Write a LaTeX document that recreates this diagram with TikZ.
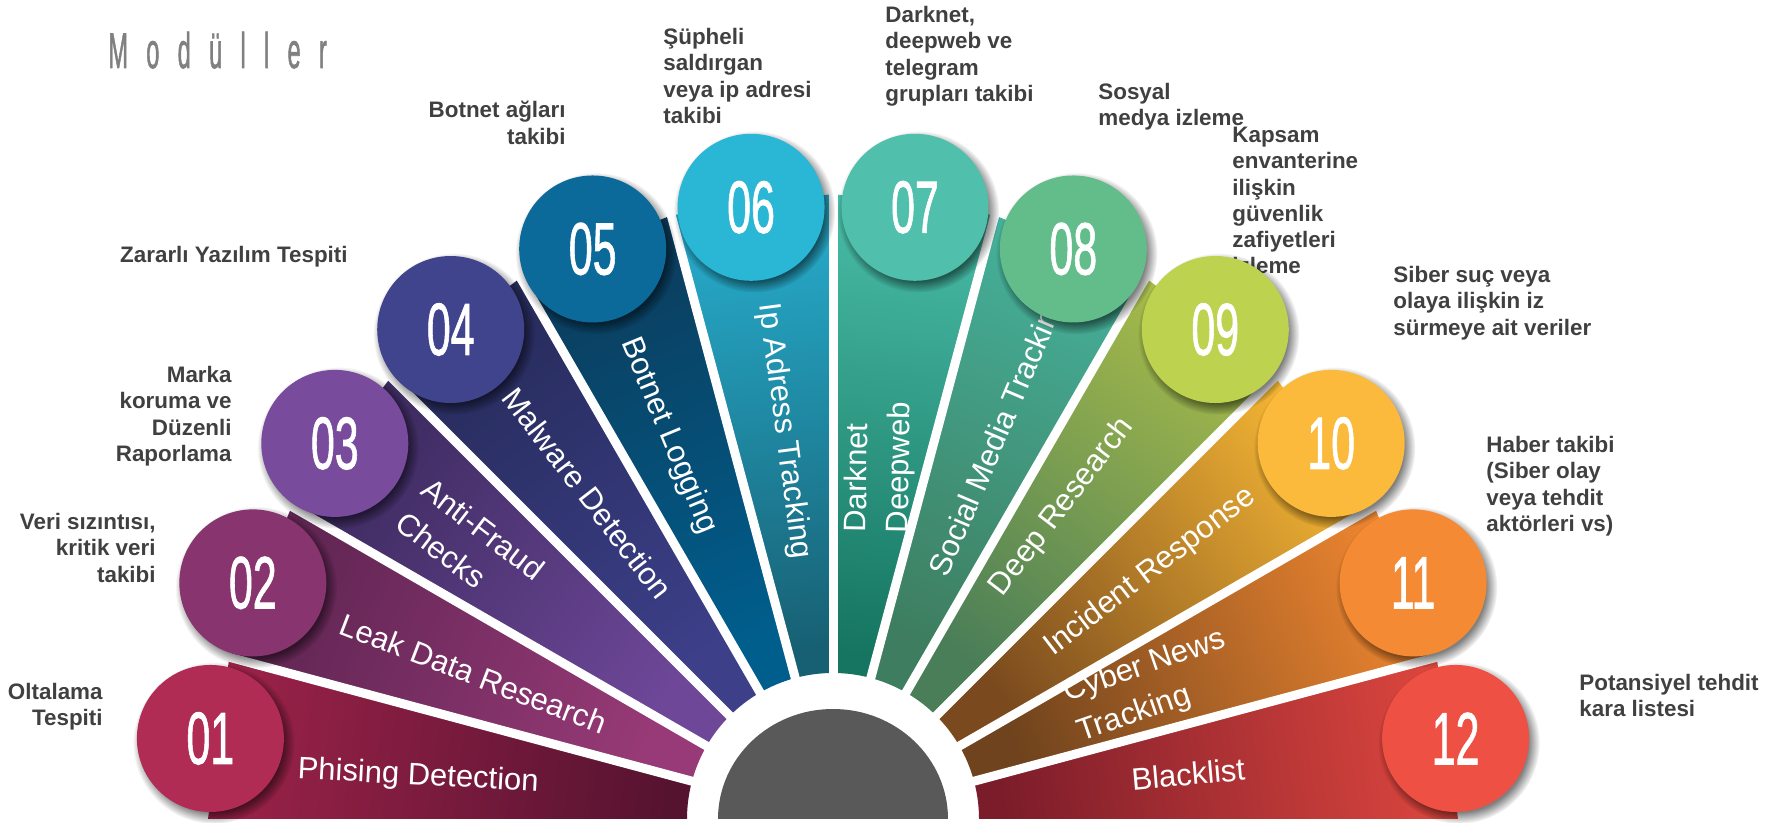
\documentclass[tikz,border=0pt]{standalone}
\usepackage{fontspec}
\setmainfont{Liberation Sans}
\newfontfamily\titlefont[LetterSpace=78, FakeBold=1.8]{Liberation Sans}
\newfontfamily\numfont[FakeBold=1.3]{Liberation Sans}
\usetikzlibrary{shadows}

\definecolor{hubgrey}{HTML}{595959}
\definecolor{descgrey}{HTML}{404040}
\definecolor{titlegrey}{HTML}{808080}
% circle colours
\definecolor{col01}{HTML}{B02C55}
\definecolor{col02}{HTML}{88356F}
\definecolor{col03}{HTML}{784B9D}
\definecolor{col04}{HTML}{40448C}
\definecolor{col05}{HTML}{0C6A9B}
\definecolor{col06}{HTML}{2AB7D5}
\definecolor{col07}{HTML}{50BFAC}
\definecolor{col08}{HTML}{63BD8A}
\definecolor{col09}{HTML}{BDD24F}
\definecolor{col10}{HTML}{FBBA3B}
\definecolor{col11}{HTML}{F48A33}
\definecolor{col12}{HTML}{EF5044}
% wedge colours, outer end / hub end
\definecolor{w01o}{HTML}{9B2249}\definecolor{w01i}{HTML}{561330}
\definecolor{w02o}{HTML}{5E2552}\definecolor{w02i}{HTML}{983A77}
\definecolor{w03o}{HTML}{3B2A5E}\definecolor{w03i}{HTML}{6E4798}
\definecolor{w04o}{HTML}{262B5A}\definecolor{w04i}{HTML}{3D3F89}
\definecolor{w05o}{HTML}{0C3C5C}\definecolor{w05i}{HTML}{005E8D}
\definecolor{w06o}{HTML}{27ADCD}\definecolor{w06i}{HTML}{175F72}
\definecolor{w07o}{HTML}{48BBA6}\definecolor{w07i}{HTML}{157560}
\definecolor{w08o}{HTML}{45B09A}\definecolor{w08i}{HTML}{3E7D5F}
\definecolor{w09o}{HTML}{A6BA4A}\definecolor{w09i}{HTML}{4A7E58}
\definecolor{w10o}{HTML}{F3B534}\definecolor{w10i}{HTML}{7A4A1E}
\definecolor{w11o}{HTML}{ED8530}\definecolor{w11i}{HTML}{6F431D}
\definecolor{w12o}{HTML}{DC463E}\definecolor{w12i}{HTML}{7B1C2A}

\begin{document}
\begin{tikzpicture}[x=0.5pt, y=0.5pt,
  wedgelabel/.style={text=white, font=\fontsize{15.5}{21}\selectfont, align=left, inner sep=0pt},
  numcircle/.style={circle, minimum size=73.5pt, inner sep=0pt, text=white,
    font=\numfont\fontsize{37}{37}\selectfont,
    circular drop shadow={shadow xshift=1.5pt, shadow yshift=-2pt, opacity=.5, fill=black}},
  desc/.style={text=descgrey, font=\fontsize{11.2}{13.1}\selectfont\bfseries, inner sep=0pt},
  descl/.style={desc, align=right, anchor=north east},
  descr/.style={desc, align=left, anchor=north west},
  gapline/.style={white, line width=4.5pt}]

\useasboundingbox (0,0) rectangle (1777,823);

% title
\node[anchor=base west, inner sep=0pt, text=titlegrey] (title) at (108,755)
  {\titlefont\fontsize{25}{25}\selectfont\scalebox{0.47}[1]{Modüller}};

\coordinate (hub) at (833,4);

\begin{scope}[shift={(hub)}]
% wedges
\foreach \a/\co/\ci in {165/w01o/w01i, 150/w02o/w02i, 135/w03o/w03i, 120/w04o/w04i,
    105/w05o/w05i, 90/w06o/w06i, 75/w07o/w07i, 60/w08o/w08i, 45/w09o/w09i,
    30/w10o/w10i, 15/w11o/w11i, 0/w12o/w12i}{
  \pgfmathsetmacro\b{\a+15}
  \pgfmathsetmacro\m{\a+7.5-90}
  \shade[top color=\co, bottom color=\ci, shading angle=\m]
    (\a:146) -- (\a:625) -- (\b:625) -- (\b:146) arc[start angle=\b, end angle=\a, radius=146] -- cycle;
}
% wedge labels
\foreach \k/\a/\r/\t/\txt in {01/174.2/417/-3/{Phising Detection},
    02/158/388/-21/{Leak Data Research}, 03/143/454/-37.5/{Anti-Fraud\\Checks},
    04/127/408/-52.5/{Malware Detection}, 05/113.2/417/-67.5/{Botnet Logging},
    06/97.2/391/-82.5/{Ip Adress Tracking}, 07/82.4/355/89/{Darknet\\Deepweb},
    08/66.5/418/67/{Social Media Tracking}, 09/53.7/387/52.5/{Deep Research},
    10/37.9/402/37.5/{Incident Response}, 11/22.6/345/19/{Cyber News\\Tracking},
    12/7.2/358/5/{Blacklist}}{
  \node[wedgelabel, rotate=\t] (l\k) at (\a:\r) {\txt};
}
% white gaps
\foreach \a in {15,30,...,165}
  \draw[gapline] (\a:140) -- (\a:632);
% hub
\fill[hubgrey] (-115,0) arc[start angle=180, end angle=0, x radius=115, y radius=110] -- cycle;
\end{scope}

% descriptions
\node[descl] (d01) at (103,140) {Oltalama\\Tespiti};
\node[descl] (d02) at (156,310) {Veri sızıntısı,\\kritik veri\\takibi};
\node[descl] (d03) at (232,457) {Marka\\koruma ve\\Düzenli\\Raporlama};
\node[descl] (d04) at (348,577) {Zararlı Yazılım Tespiti};
\node[descl] (d05) at (566,722) {Botnet ağları\\takibi};
\node[descr] (d06) at (663,795) {Şüpheli\\saldırgan\\veya ip adresi\\takibi};
\node[descr] (d07) at (885,817) {Darknet,\\deepweb ve\\telegram\\grupları takibi};
\node[descr] (d08) at (1098,740) {Sosyal\\medya izleme};
\node[descr] (d09) at (1232,696) {Kapsam\\envanterine\\ilişkin\\güvenlik\\zafiyetleri\\izleme};
\node[descr] (d10) at (1393,557) {Siber suç veya\\olaya ilişkin iz\\sürmeye ait veriler};
\node[descr] (d11) at (1486,387) {Haber takibi\\(Siber olay\\veya tehdit\\aktörleri vs)};
\node[descr] (d12) at (1579,149) {Potansiyel tehdit\\kara listesi};

% numbered circles
\begin{scope}[shift={(hub)}]
\foreach \k/\a in {01/172.5, 02/157.5, 03/142.5, 04/127.5, 05/112.5, 06/97.5,
    07/82.5, 08/67.5, 09/52.5, 10/37.5, 11/22.5, 12/7.5}
  \node[numcircle, fill=col\k] (n\k) at (\a:628 and 617) {\scalebox{0.58}[1]{\k}};
\end{scope}
\end{tikzpicture}
\end{document}
